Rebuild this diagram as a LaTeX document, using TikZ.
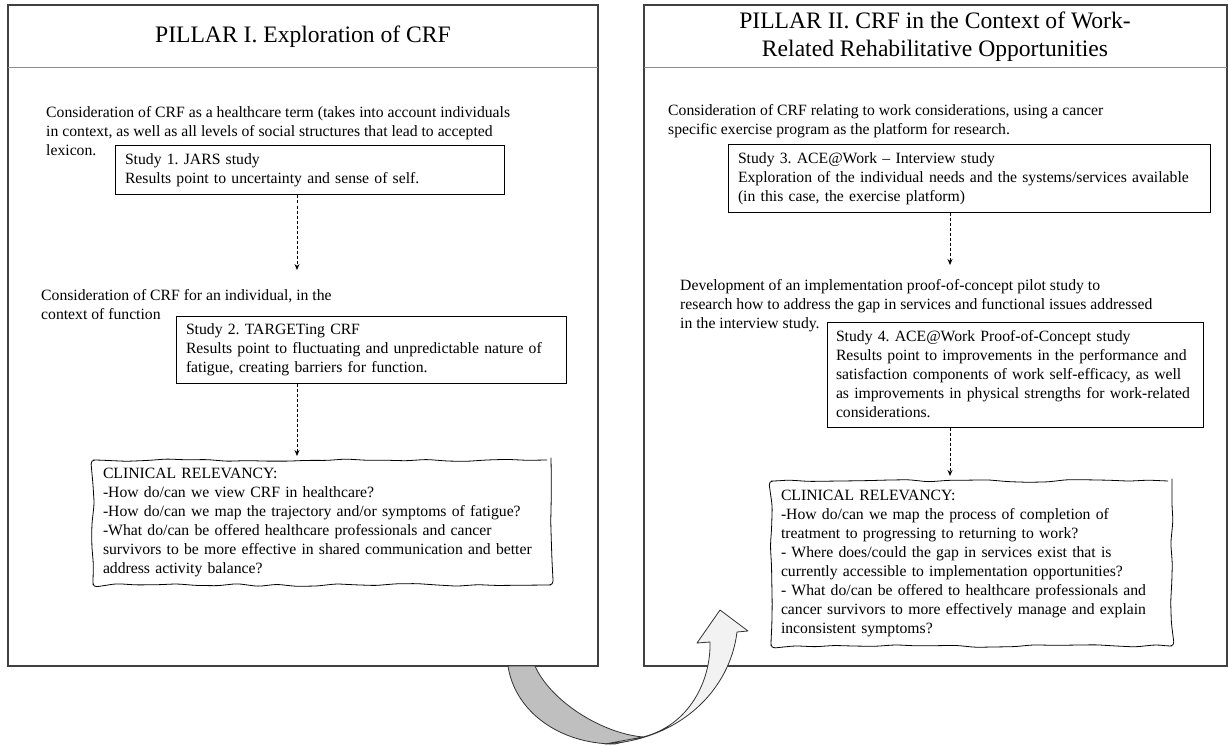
\documentclass[tikz,border=0pt]{standalone}
\usepackage{fontspec}
\setmainfont{Liberation Serif}
\usepackage{tikz}
\usetikzlibrary{calc,arrows.meta,decorations.pathmorphing}

\newcommand{\bodyfont}{\fontsize{15.7}{19}\selectfont}
\newcommand{\headfont}{\fontsize{23.6}{28.4}\selectfont}

\begin{document}
\frenchspacing
\begin{tikzpicture}[x=1pt,y=-1pt,
            panel/.style={draw=black!75, line width=1.2pt, inner sep=0pt},
            sep/.style={draw=black!45, line width=1pt},
            para/.style={anchor=north west, inner sep=0pt, align=left, font=\bodyfont},
            study/.style={draw, line width=1pt, inner xsep=10pt, inner ysep=0pt, align=left, font=\bodyfont},
            wavy/.style={study, line width=0.8pt, decorate, decoration={random steps, segment length=20pt, amplitude=1.4pt}, rounded corners=4pt},
            dasharr/.style={densely dashed, line width=0.8pt, -{Stealth[length=6pt,width=5pt]}}]
            \useasboundingbox (0,0) rectangle (1228,746);
            \pgfmathsetseed{7}

            \node[panel, minimum width=590pt, minimum height=661pt] (pnl1) at (303,335.5) {};
            \node[panel, minimum width=583pt, minimum height=661pt] (pnl2) at (935.5,335.5) {};
            \draw[sep] (8,68) -- (598,68);
            \draw[sep] (644,68) -- (1227,68);

            \node[font=\headfont] (t1) at (303,37) {PILLAR I. Exploration of CRF};
            \node[font=\headfont, align=center] (t2) at (935,37) {PILLAR II. CRF in the Context of Work-\\Related Rehabilitative Opportunities};

            \node[para] (c1) at (46,106) {Consideration of CRF as a healthcare term (takes into account individuals\\in context, as well as all levels of social structures that lead to accepted\\lexicon.};
            \node[study, text width=369pt, minimum height=49pt] (s1) at (309.5,170.5) {Study 1. JARS study\\Results point to uncertainty and sense of self.};
            \node[para] (c2) at (41,289) {Consideration of CRF for an individual, in the\\context of function};
            \node[study, text width=370pt, minimum height=67pt] (s2) at (371,349.5) {Study 2. TARGETing CRF\\Results point to fluctuating and unpredictable nature of\\fatigue, creating barriers for function.};
            \node[wavy, text width=438pt, minimum height=125pt] (cl1) at (322,522.5) {CLINICAL RELEVANCY:\\-How do/can we view CRF in healthcare?\\-How do/can we map the trajectory and/or symptoms of fatigue?\\-What do/can be offered healthcare professionals and cancer\\survivors to be more effective in shared communication and better\\address activity balance?};

            \node[para] (c3) at (668,104) {Consideration of CRF relating to work considerations, using a cancer\\specific exercise program as the platform for research.};
            \node[study, text width=462pt, minimum height=67pt] (s3) at (969,178.5) {Study 3. ACE@Work – Interview study\\Exploration of the individual needs and the systems/services available\\(in this case, the exercise platform)};
            \node[para] (c4) at (680,279) {Development of an implementation proof-of-concept pilot study to\\research how to address the gap in services and functional issues addressed\\in the interview study.};
            \node[study, text width=358pt, inner xsep=9pt, minimum height=105pt] (s4) at (1015,374.5) {Study 4. ACE@Work Proof-of-Concept study\\Results point to improvements in the performance and\\satisfaction components of work self-efficacy, as well\\as improvements in physical strengths for work-related\\considerations.};
            \node[wavy, text width=381pt, minimum height=165pt] (cl2) at (971.5,563.5) {CLINICAL RELEVANCY:\\-How do/can we map the process of completion of\\treatment to progressing to returning to work?\\- Where does/could the gap in services exist that is\\currently accessible to implementation opportunities?\\- What do/can be offered to healthcare professionals and\\cancer survivors to more effectively manage and explain\\inconsistent symptoms?};

            \coordinate (a1) at (297,270);
            \coordinate (a2) at (297,456);
            \coordinate (a3) at (950,265);
            \coordinate (a4) at (950,476);
            \draw[dasharr] (s1.south -| a1) -- (a1);
            \draw[dasharr] (s2.south -| a2) -- (a2);
            \draw[dasharr] (s3.south -| a3) -- (a3);
            \draw[dasharr] (s4.south -| a4) -- (a4);

            \draw[draw=black!80, fill=black!25, line width=0.8pt, line join=round] (508,666) .. controls (515,712) and (560,744) .. (615,744) -- (643,737) .. controls (600,733) and (550,700) .. (535,666) -- cycle;
            \draw[draw=black!80, fill=black!5, line width=0.8pt, line join=round] (605,744) .. controls (680,740) and (730,690) .. (737,632) -- (748,631) -- (720,610) -- (697,643) -- (710,642) .. controls (711,680) and (690,725) .. (643,737) -- cycle;
        \end{tikzpicture}
\end{document}
